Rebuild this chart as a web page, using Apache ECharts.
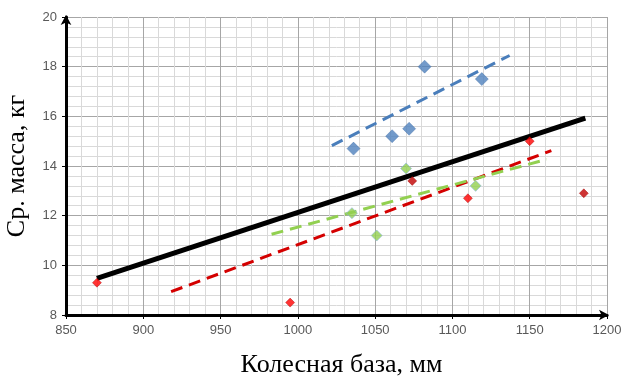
<!DOCTYPE html>
<html><head><meta charset="utf-8">
<script src="https://cdn.jsdelivr.net/npm/echarts@6/dist/echarts.min.js"></script>
<style>html,body{margin:0;padding:0;background:#fff}#c{width:622px;height:379px}</style>
</head><body><div id="c"></div>
<script>
const blueX = [1036, 1061, 1072, 1082, 1119];
const blueY = [14.7, 15.2, 15.5, 18.0, 17.5];
const redX = [870, 995, 1074, 1110, 1150, 1185];
const redY = [9.3, 8.5, 13.4, 12.7, 15.0, 12.9];
const redDark = [false, false, true, false, false, true];
const greenX = [1035, 1051, 1070, 1115];
const greenY = [12.1, 11.2, 13.9, 13.2];
const blueTrendX = [1022, 1137];
const blueTrendY = [14.82, 18.45];
const redTrendX = [918, 1164];
const redTrendY = [8.94, 14.62];
const greenTrendX = [983, 1161];
const greenTrendY = [11.25, 14.27];
const blackX = [870, 1186];
const blackY = [9.47, 15.93];
const xTicks = [850, 900, 950, 1000, 1050, 1100, 1150, 1200];
const yTicks = [8, 10, 12, 14, 16, 18, 20];

const zip = (a, b) => a.map((v, i) => [v, b[i]]);
const chart = echarts.init(document.getElementById('c'), null, {renderer: 'canvas'});
const tickFont = {color: '#595959', fontSize: 13, fontFamily: 'Liberation Sans', formatter: v => String(v)};
chart.setOption({
  animation: false,
  grid: {left: 66, right: 15, top: 17, bottom: 64, outerBoundsMode: 'none'},
  xAxis: {
    type: 'value', min: xTicks[0], max: xTicks[xTicks.length - 1], interval: 50,
    name: 'Колесная база, мм', nameLocation: 'middle', nameGap: 37,
    nameTextStyle: {fontFamily: 'Liberation Serif', fontSize: 26, color: '#000', padding: [0, 0, 0, 10]},
    axisLine: {lineStyle: {color: '#000', width: 3}, symbol: ['none', 'arrow'], symbolSize: [8, 10], symbolOffset: [0, 2]},
    axisTick: {show: true, length: 4, lineStyle: {color: '#000', width: 1}},
    axisLabel: Object.assign({margin: 9}, tickFont),
    splitLine: {show: true, lineStyle: {color: '#a6a6a6', width: 1}},
    minorTick: {show: false, splitNumber: 5},
    minorSplitLine: {show: true, lineStyle: {color: '#d9d9d9', width: 1}}
  },
  yAxis: {
    type: 'value', min: yTicks[0], max: yTicks[yTicks.length - 1], interval: 2,
    name: 'Ср. масса, кг', nameLocation: 'middle', nameGap: 36,
    nameTextStyle: {fontFamily: 'Liberation Serif', fontSize: 26, color: '#000'},
    axisLine: {lineStyle: {color: '#000', width: 3}, symbol: ['none', 'arrow'], symbolSize: [8, 10], symbolOffset: [0, 2]},
    axisTick: {show: true, length: 4, lineStyle: {color: '#000', width: 1}},
    axisLabel: Object.assign({margin: 9}, tickFont),
    splitLine: {show: true, lineStyle: {color: '#a6a6a6', width: 1}},
    minorTick: {show: false, splitNumber: 5},
    minorSplitLine: {show: true, lineStyle: {color: '#d9d9d9', width: 1}}
  },
  series: [
    {type: 'line', data: zip(blackX, blackY), symbol: 'none', lineStyle: {color: '#000', width: 5}, z: 3},
    {type: 'line', data: zip(blueTrendX, blueTrendY), symbol: 'none', lineStyle: {color: '#4a7ebb', width: 3, type: [12, 7]}, z: 3},
    {type: 'line', data: zip(redTrendX, redTrendY), symbol: 'none', lineStyle: {color: '#d40000', width: 3, type: [12, 7]}, z: 3},
    {type: 'line', data: zip(greenTrendX, greenTrendY), symbol: 'none', lineStyle: {color: '#92d050', width: 3, type: [12, 7]}, z: 3},
    {type: 'scatter', data: zip(blueX, blueY), symbol: 'diamond', symbolSize: 13,
      itemStyle: {color: '#4f81bd', borderColor: '#3a6aa6', borderWidth: 0.5}, z: 5},
    {type: 'scatter', data: zip(greenX, greenY), symbol: 'diamond', symbolSize: 11,
      itemStyle: {color: '#92d050', borderColor: '#8fb8e0', borderWidth: 0.8}, z: 5},
    {type: 'scatter', data: zip(redX, redY).map((p, i) => ({value: p, itemStyle: {color: redDark[i] ? '#c00000' : '#ff0000'}})),
      symbol: 'diamond', symbolSize: 9, itemStyle: {borderColor: '#a00000', borderWidth: 0.5}, z: 5}
  ]
});
</script></body></html>
